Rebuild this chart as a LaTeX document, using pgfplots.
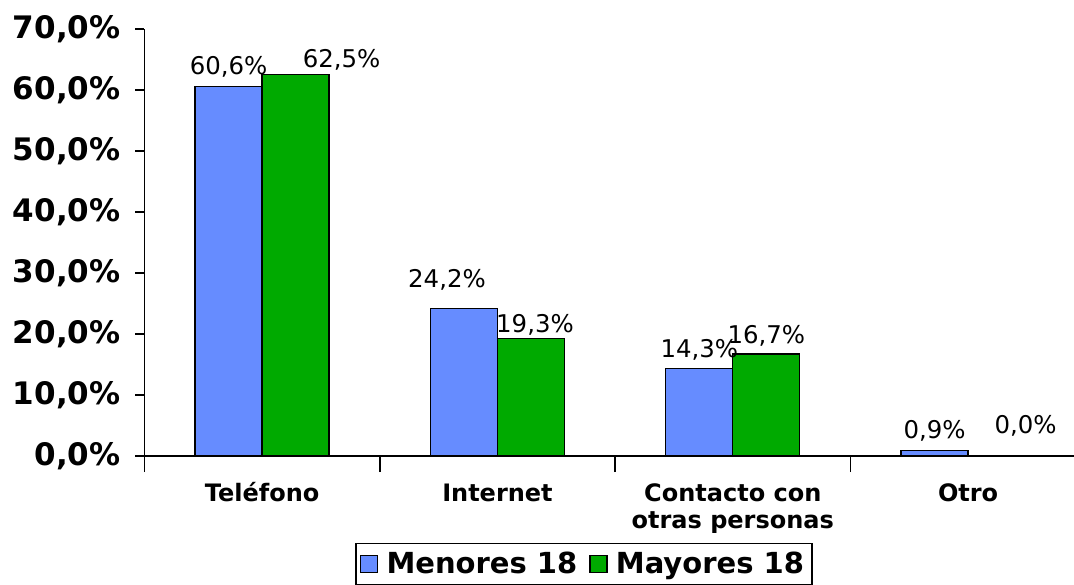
\documentclass[border=0pt]{standalone}
\usepackage{fontspec}
\setmainfont{DejaVu Sans}
\usepackage{pgfplots}
\usepackage{pgfplotstable}
\pgfplotsset{compat=1.18}
\definecolor{menores}{HTML}{668CFF}
\definecolor{mayores}{HTML}{00AA00}

% x y dx dy  (dx, dy: label offsets in pt)
\pgfplotstableread{
x y dx dy
0 60.6 0 6
1 24.2 -8.5 10.5
2 14.3 0 5.5
3 0.9 0 6
}\menores
\pgfplotstableread{
x y dx dy
0 62.5 23 3.5
1 19.3 2 3
2 16.7 0 5.5
3 0.0 12 11.5
}\mayores

\begin{document}
\begin{tikzpicture}
\begin{axis}[
  scale only axis, width=464.75pt, height=213.5pt,
  at={(0,0)}, anchor=south west,
  ybar=0pt, bar width=33.5pt,
  xmin=-0.5, xmax=3.45, ymin=0, ymax=70,
  axis lines=left, axis line style={-, black, line width=0.8pt},
  xtick={0,1,2,3}, major x tick style={draw=none},
  minor xtick={-0.5,0.5,1.5,2.5},
  minor tick length=8pt,
  minor x tick style={black, line width=0.8pt},
  xticklabels={\rule{0pt}{10pt}Teléfono, \rule{0pt}{10pt}Internet,
    {\rule{0pt}{10pt}Contacto con\\otras personas}, \rule{0pt}{10pt}Otro},
  xticklabel style={font=\bfseries\fontsize{12}{13.5}\selectfont, align=center,
    anchor=north, yshift=-4.5pt},
  ytick={0,10,...,70},
  tick align=outside, major tick length=4.5pt,
  major y tick style={black, line width=0.8pt},
  yticklabel={\pgfmathprintnumber[fixed,fixed zerofill,precision=1,use comma]{\tick}\%},
  yticklabel style={font=\bfseries\fontsize{15.5}{17}\selectfont, xshift=-4pt},
  /pgf/number format/assume math mode=true,
  nodes near coords={\pgfmathprintnumber[fixed,fixed zerofill,precision=1,use comma]{\pgfplotspointmeta}\%},
  every node near coord/.append style={font=\fontsize{12.2}{14}\selectfont, anchor=base,
    xshift=\dx pt, yshift=\dy pt, inner sep=0pt},
  visualization depends on={\thisrow{dx} \as \dx},
  visualization depends on={\thisrow{dy} \as \dy},
  legend columns=2,
  legend style={at={(0.4728,-0.2037)}, anchor=north, draw=black, line width=0.6pt,
    font=\bfseries\fontsize{14.5}{16}\selectfont, inner sep=2pt,
    /tikz/every even column/.append style={column sep=4pt}},
  legend image code/.code={\draw[#1, line width=0.6pt, draw=black] (0pt,-4.25pt) rectangle (8.5pt,4.25pt);
    \path[draw=none, fill=none] (0pt,0pt) rectangle (11pt,0pt);},
  clip=false,
]
\addplot[fill=menores, draw=black, line width=0.7pt] table[x=x, y=y] {\menores};
\addplot[fill=mayores, draw=black, line width=0.7pt] table[x=x, y=y] {\mayores};
\legend{Menores 18, Mayores 18}
\end{axis}
\pgfresetboundingbox
\path[use as bounding box] (-72.25pt,-64pt) rectangle (464.75pt,228pt);
\end{tikzpicture}
\end{document}
